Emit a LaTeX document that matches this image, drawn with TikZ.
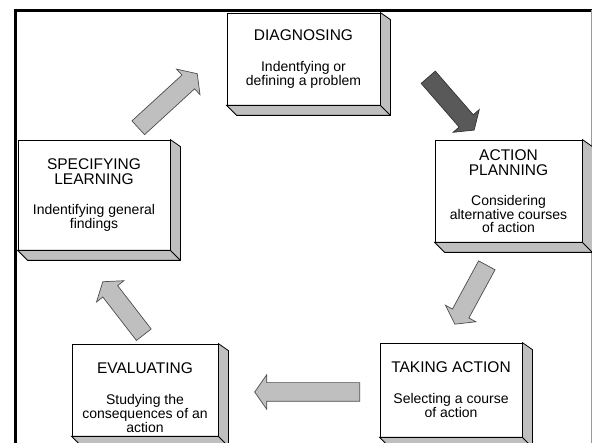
\documentclass[tikz,border=0pt]{standalone}
\usepackage{fontspec}
\setmainfont{Liberation Sans}
\usepackage{tikz}
\usetikzlibrary{shapes.arrows, calc}

\newcommand{\stagehead}{\fontsize{15.5}{13}\selectfont}
\newcommand{\stagebody}{\fontsize{14}{13}\selectfont}
% side faces of a raised box
\newcommand{\slab}[1]{%
    \filldraw[sideface] (#1.north east) -- ++(10,7) -- ($(#1.south east)+(10,10)$)
        -- ($(#1.south west)+(10,10)$) -- (#1.south west) -- (#1.south east) -- cycle;
    \draw[sideface] (#1.south east) -- ++(10,10);
}

\begin{document}
\begin{tikzpicture}[
    x=1pt, y=-1pt,
    % Styles
    stage/.style={
        draw=black, fill=white, line width=0.8pt, align=center, inner sep=2pt,
        font=\stagebody
    },
    sideface/.style={draw=black, fill=black!25, line width=0.8pt},
    blockarrow/.style={
        single arrow, draw=black!70, fill=black!25, line width=0.7pt,
        inner xsep=0pt, inner ysep=9pt, single arrow head extend=8pt,
        single arrow tip angle=110, anchor=tail
    },
    darkarrow/.style={blockarrow, fill=black!65, draw=black!80}
]
    \clip (0,0) rectangle (592,443);
    \useasboundingbox (0,0) rectangle (592,443);

    % --- frame ---
    \draw[line width=3pt] (14,10.5) -- (592,10.5);
    \draw[line width=3pt] (15.3,9) -- (15.3,443);
    \draw[black!40, line width=1pt] (591,10) -- (591,443);

    % --- Stages ---
    \node[stage, minimum width=153pt, minimum height=92pt] (diag) at (303.5,59) {
        {\stagehead DIAGNOSING}\\[18pt]
        Indentfying or\\
        defining a problem
    };

    \node[stage, minimum width=147pt, minimum height=102pt] (plan) at (508.5,191) {
        {\stagehead ACTION}\\[1.5pt]
        {\stagehead PLANNING}\\[17pt]
        Considering\\
        alternative courses\\
        of action
    };

    \node[stage, minimum width=142pt, minimum height=94pt] (take) at (451,390) {
        {\stagehead TAKING ACTION}\\[18pt]
        Selecting a course\\
        of action
    };

    \node[stage, minimum width=146pt, minimum height=92pt] (eval) at (145,390) {
        {\stagehead\rule{0pt}{26pt}EVALUATING}\\[18pt]
        Studying the\\
        consequences of an\\
        action
    };

    \node[stage, minimum width=152pt, minimum height=110pt] (spec) at (94,195) {
        {\stagehead SPECIFYING}\\[1.5pt]
        {\stagehead LEARNING}\\[17pt]
        Indentifying general\\
        findings
    };

    \slab{diag}
    \slab{plan}
    \slab{take}
    \slab{eval}
    \slab{spec}

    % --- Cycle arrows ---
    \node[darkarrow, minimum height=70pt, rotate=-49] (toplan) at (428,77) {};
    \node[blockarrow, minimum height=67pt, rotate=-118.5] (totake) at (487,265) {};
    \node[blockarrow, minimum height=105pt, rotate=180] (toeval) at (360,392) {};
    \node[blockarrow, minimum height=67pt, rotate=127.7] (tospec) at (144,335) {};
    \node[blockarrow, minimum height=80pt, rotate=42.5] (todiag) at (138,128) {};

\end{tikzpicture}
\end{document}
